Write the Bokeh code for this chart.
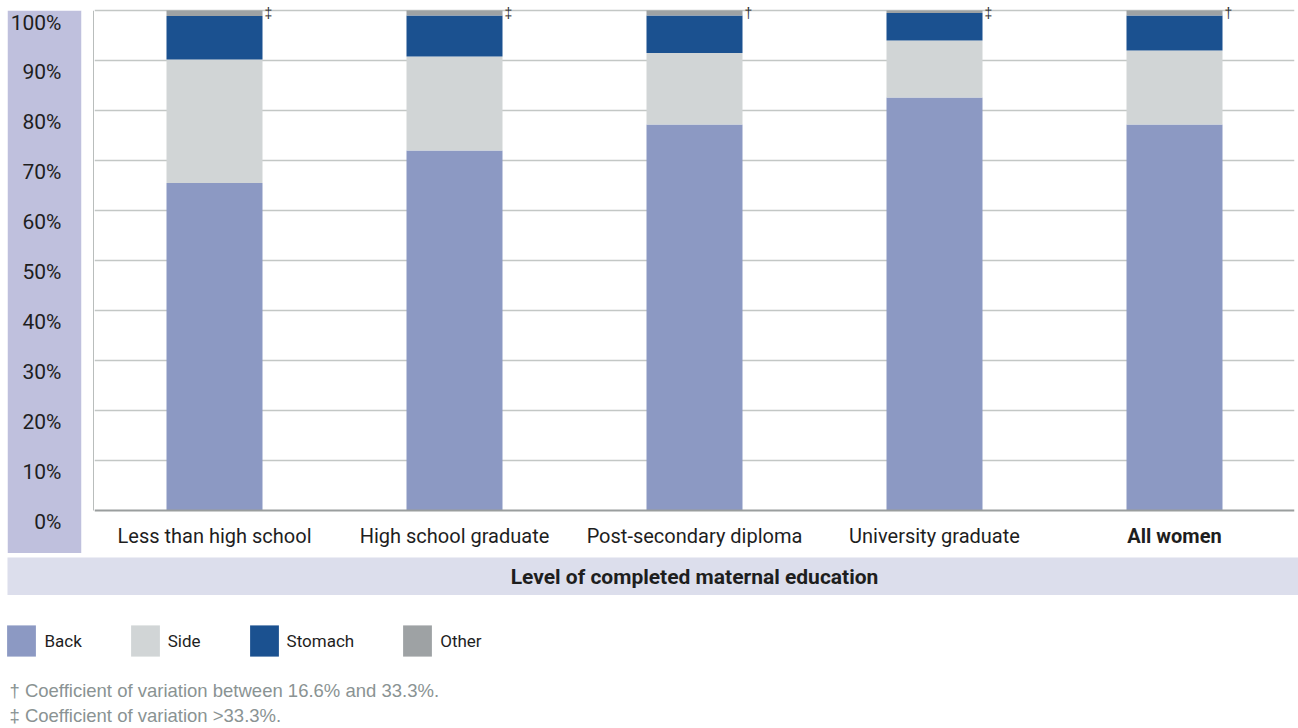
from bokeh.plotting import figure
from bokeh.layouts import column, row
from bokeh.models import (FactorRange, Range1d, Legend, LegendItem, BoxAnnotation,
                          Label, FixedTicker, ColumnDataSource, Span, Grid, Spacer)
from bokeh.core.properties import value
from bokeh.embed import file_html
from bokeh.resources import INLINE

categories = ["Less than high school", "High school graduate", "Post-secondary diploma",
              "University graduate", "All women"]
back = [65.5, 72.0, 77.2, 82.6, 77.2]
side = [24.7, 18.8, 14.3, 11.4, 14.8]
stomach = [8.7, 8.2, 7.5, 5.5, 7.0]
other = [1.1, 1.0, 1.0, 0.5, 1.0]
flags = ["‡", "‡", "†", "‡", "†"]
series = ["Back", "Side", "Stomach", "Other"]
colors = ["#8C99C3", "#D1D5D6", "#1B5190", "#9EA2A4"]
y_ticks = list(range(0, 101, 10))
y_labels = [f"{t}%" for t in y_ticks]
x_title = "Level of completed maternal education"
notes = ["† Coefficient of variation between 16.6% and 33.3%.",
         "‡ Coefficient of variation >33.3%."]

FONT = "Roboto"
SANS = "Liberation Sans"
TXT = "#1E1E1E"
LAVENDER = "#BFC0DD"
BAND = "#DCDEEC"
LABEL_SHIFT = 2.3   # y tick labels sit a little below their grid lines (style)

totals = [b + s + st + o for b, s, st, o in zip(back, side, stomach, other)]
styles = ["bold" if c == "All women" else "normal" for c in categories]
source = ColumnDataSource(dict(cat=categories, Back=back, Side=side, Stomach=stomach,
                               Other=other, flag=flags, total=totals, style=styles,
                               base=[y_ticks[0]] * len(categories)))

common = dict(output_backend="svg", toolbar_location=None)

# ---------- left panel with the y axis ----------
figL = figure(width=87, height=543, x_range=Range1d(0, 1), y_range=Range1d(-8.6, 100),
              x_axis_location=None, y_axis_location="left",
              min_border_left=74, min_border_right=0, min_border_top=0,
              min_border_bottom=0, **common)
figL.border_fill_color = LAVENDER
figL.background_fill_color = "white"
figL.outline_line_color = None
figL.grid.visible = False
ya = figL.yaxis[0]
shifted = [t - LABEL_SHIFT for t in y_ticks]
ya.ticker = FixedTicker(ticks=shifted)
ya.major_label_overrides = {s: lab for s, lab in zip(shifted, y_labels)}
ya.major_label_text_font = FONT
ya.major_label_text_font_size = "21px"
ya.major_label_text_color = TXT
ya.major_label_standoff = 14
ya.major_tick_line_color = None
ya.minor_tick_line_color = None
ya.axis_line_color = None
# vertical axis line from 0% to 100%
figL.add_layout(BoxAnnotation(left=85.5, right=87, top=y_ticks[-1], bottom=y_ticks[0],
                              left_units="canvas", right_units="canvas",
                              fill_color="#B9BDBC", fill_alpha=1, line_color=None))

# ---------- main plot ----------
p = figure(width=1204, height=553, x_range=FactorRange(factors=categories, range_padding=0),
           y_range=Range1d(-8.6, 101), x_axis_location=None, y_axis_location=None,
           min_border_left=0, min_border_right=4, min_border_top=5, min_border_bottom=0,
           **common)
p.outline_line_color = None
p.background_fill_color = "white"
p.border_fill_color = "white"
p.grid.visible = False

p.add_layout(Grid(dimension=1, ticker=FixedTicker(ticks=y_ticks[1:]),
                  grid_line_color="#C3C7C5", grid_line_width=1.5))
p.add_layout(Span(location=y_ticks[0], dimension="width", line_color="#9A9E9E",
                  line_width=2))

rs = p.vbar_stack(series, x="cat", width=0.4, fill_color=colors, line_color=None,
                  source=source)

p.text(x="cat", y="total", text="flag", source=source, x_offset=50, y_offset=2.5,
       text_align="left", text_baseline="middle", text_font=value(SANS),
       text_font_size="14px", text_color="#333333")

# category labels under the 0% line
p.text(x="cat", y="base", text="cat", source=source, y_offset=25,
       text_align="center", text_baseline="middle", text_font=value(FONT),
       text_font_size="20px", text_font_style="style", text_color=TXT)

# ---------- x-axis title band ----------
band = figure(width=1298, height=42, x_range=Range1d(7, 1298), y_range=Range1d(0, 38),
              x_axis_location=None, y_axis_location=None,
              min_border_left=7, min_border_right=0, min_border_top=4,
              min_border_bottom=0, **common)
band.outline_line_color = None
band.background_fill_color = BAND
band.border_fill_color = "white"
band.grid.visible = False
band.add_layout(Label(x=94 + 600, y=19, text=x_title, text_align="center",
                      text_baseline="middle", text_font=FONT, text_font_size="21px",
                      text_font_style="bold", text_color=TXT))

# ---------- legend and notes ----------
foot = figure(width=1298, height=133, x_range=Range1d(0, 1298), y_range=Range1d(133, 0),
              x_axis_location=None, y_axis_location=None,
              min_border_left=0, min_border_right=0, min_border_top=0,
              min_border_bottom=0, **common)
foot.outline_line_color = None
foot.background_fill_color = "white"
foot.border_fill_color = "white"
foot.grid.visible = False
# hidden copies of the stacked series: they only provide the legend swatches
swatches = foot.vbar_stack(series, x="cat", width=0.4, fill_color=colors,
                           line_color=None, source=source, visible=False)
legend = Legend(items=[LegendItem(label=s, renderers=[r]) for s, r in zip(series, swatches)],
                orientation="horizontal", location=(-3.6, 68),
                glyph_width=36, glyph_height=39, label_standoff=5, spacing=45,
                padding=0, margin=0, border_line_color=None, background_fill_alpha=0,
                label_text_font=FONT, label_text_font_size="17px",
                label_text_color=TXT)
foot.add_layout(legend, "center")
for i, note in enumerate(notes):
    foot.add_layout(Label(x=2, y=94.5 + 25 * i, text=note, text_align="left",
                          text_baseline="middle", text_font=SANS,
                          text_font_size="18.5px", text_color="#8A9393"))

layout = column(row(Spacer(width=7, height=553),
                    column(Spacer(width=87, height=10), figL, spacing=0),
                    p, spacing=0),
                band, foot, spacing=0)

open("out.html", "w").write(file_html(layout, INLINE))
